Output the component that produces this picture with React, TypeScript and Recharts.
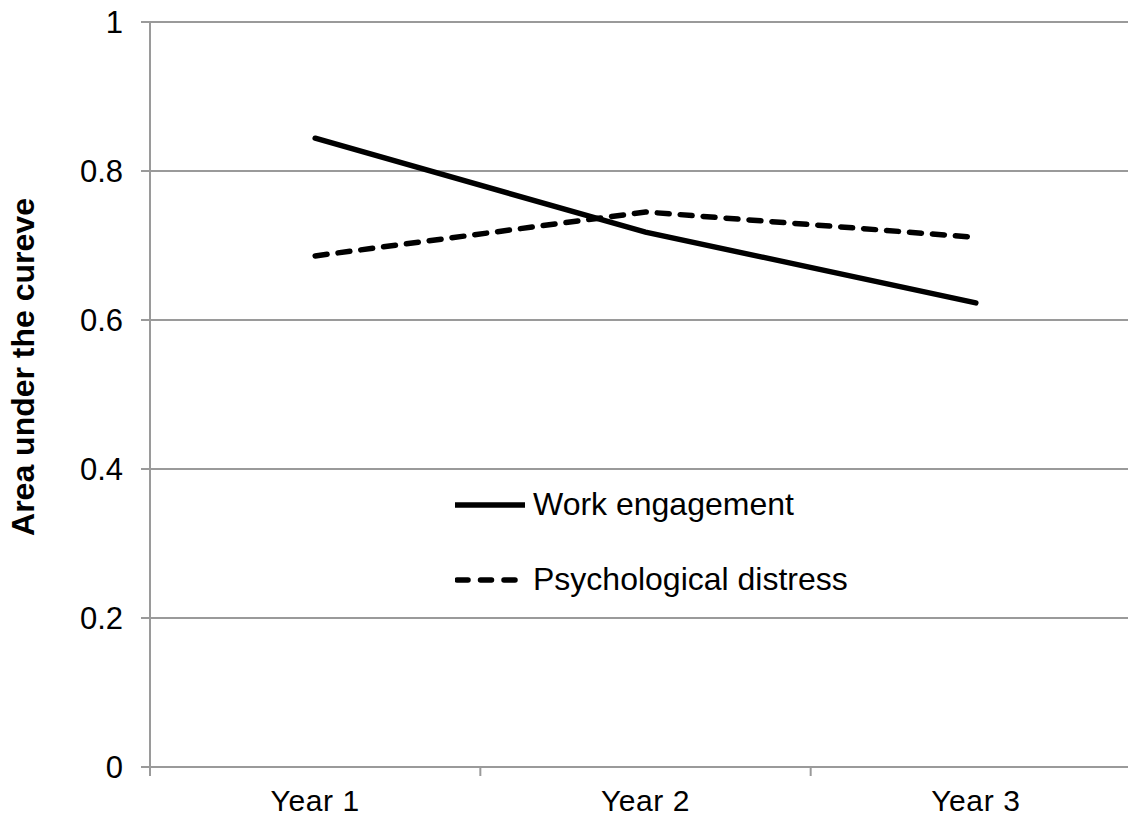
import React from "react";
import {
  LineChart,
  Line,
  XAxis,
  YAxis,
  CartesianGrid,
  Legend,
  Label,
} from "recharts";

const years = ["Year 1", "Year 2", "Year 3"];
const seriesNames = ["Work engagement", "Psychological distress"];
const workEngagement = [0.844, 0.718, 0.623];
const psychDistress = [0.686, 0.745, 0.711];
const yTicks = [0, 0.2, 0.4, 0.6, 0.8, 1];

const FONT = '"Liberation Sans", Arial, sans-serif';
const GRID = "#9a9a9a";

// x position = category index + 0.5, so category bands span [i, i+1]
const data = years.map((year, i) => ({
  year,
  x: i + 0.5,
  we: workEngagement[i],
  pd: psychDistress[i],
}));

const xTicks: number[] = [];
for (let i = 0; i <= years.length; i++) {
  xTicks.push(i);
  if (i < years.length) xTicks.push(i + 0.5);
}

function fmtY(v: number) {
  if (v === 0) return "0";
  if (v === 1) return "1";
  return v.toFixed(1);
}

function XTick(props: any) {
  const { x, y, payload } = props;
  const v = payload.value;
  if (Number.isInteger(v)) {
    return <line x1={x} x2={x} y1={y} y2={y + 9} stroke={GRID} strokeWidth={2} />;
  }
  return (
    <text
      x={x}
      y={y + 23}
      dy="0.71em"
      textAnchor="middle"
      fontSize={30}
      fontFamily={FONT}
      fill="#000"
      letterSpacing={0.6}
    >
      {years[Math.floor(v)]}
    </text>
  );
}

// zero-height box so the legend takes no room from the plot
function LegendBox(props: any) {
  const items = [...(props.payload || [])].sort(
    (a: any, b: any) => seriesNames.indexOf(a.value) - seriesNames.indexOf(b.value)
  );
  return (
    <div style={{ height: 0, overflow: "visible", position: "relative" }}>
      <div
        style={{
          position: "absolute",
          left: 0,
          top: 0,
          fontFamily: FONT,
          fontSize: 32,
          color: "#000",
          whiteSpace: "nowrap",
        }}
      >
        {items.map((it: any) => (
          <div
            key={it.value}
            style={{ display: "flex", alignItems: "center", height: 75 }}
          >
            <svg width={78} height={20} style={{ display: "block" }}>
              {it.payload.strokeDasharray ? (
                <line
                  x1={2}
                  x2={63}
                  y1={10}
                  y2={10}
                  stroke="#000"
                  strokeWidth={5.5}
                  strokeLinecap="round"
                  strokeDasharray="11 12.5"
                />
              ) : (
                <line x1={0} x2={70} y1={10} y2={10} stroke="#000" strokeWidth={5.5} />
              )}
            </svg>
            <span>{it.value}</span>
          </div>
        ))}
      </div>
    </div>
  );
}

export default function App() {
  return (
    <div
      style={{
        position: "absolute",
        left: 0,
        top: 0,
        width: 1128,
        height: 820,
        overflow: "hidden",
        background: "#fff",
      }}
    >
      <LineChart
        width={1141}
        height={820}
        data={data}
        margin={{ top: 22, right: 0, bottom: 0, left: 0 }}
      >
        <CartesianGrid vertical={false} stroke={GRID} strokeWidth={2} />
        <XAxis
          dataKey="x"
          type="number"
          domain={[0, years.length]}
          ticks={xTicks}
          interval={0}
          height={53}
          tickSize={0}
          tickMargin={0}
          tickLine={false}
          axisLine={{ stroke: GRID, strokeWidth: 2 }}
          tick={XTick}
        />
        <YAxis
          type="number"
          domain={[0, 1]}
          ticks={yTicks}
          interval={0}
          width={150}
          tickSize={9}
          tickMargin={18}
          tickFormatter={fmtY}
          tickLine={{ stroke: GRID, strokeWidth: 2 }}
          axisLine={{ stroke: GRID, strokeWidth: 2 }}
          tick={{ fill: "#000", fontSize: 31, fontFamily: FONT }}
        >
          <Label
            content={() => (
              <text
                x={23}
                y={367}
                transform="rotate(-90, 23, 367)"
                textAnchor="middle"
                dominantBaseline="central"
                fontSize={32}
                fontWeight="bold"
                fontFamily={FONT}
                fill="#000"
              >
                Area under the cureve
              </text>
            )}
          />
        </YAxis>
        <Legend
          layout="vertical"
          content={LegendBox}
          wrapperStyle={{ left: 455, top: 467, width: 420, height: 0, bottom: "auto" }}
        />
        <Line
          name="Work engagement"
          dataKey="we"
          type="linear"
          stroke="#000"
          strokeWidth={5.5}
          strokeLinecap="round"
          dot={false}
          activeDot={false}
          isAnimationActive={false}
        />
        <Line
          name="Psychological distress"
          dataKey="pd"
          type="linear"
          stroke="#000"
          strokeWidth={5.5}
          strokeLinecap="round"
          strokeDasharray="12 11"
          dot={false}
          activeDot={false}
          isAnimationActive={false}
        />
      </LineChart>
    </div>
  );
}
